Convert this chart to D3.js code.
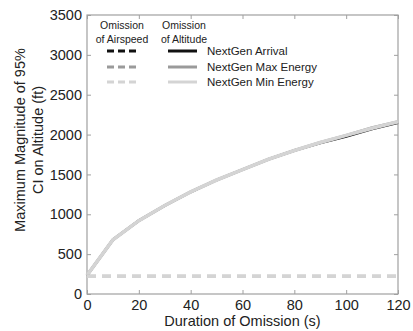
<!DOCTYPE html>
<html><head><meta charset="utf-8">
<script src="https://cdn.jsdelivr.net/npm/d3@7"></script>
<style>body{margin:0;background:#fff}svg{display:block}text{font-family:Arial,"Liberation Sans",sans-serif}</style>
</head><body><svg id="c" width="413" height="331"></svg>
<script>
const durations = [0,10,20,30,40,50,60,70,80,90,100,110,120];
const arrivalAlt = [235,680,920,1110,1280,1430,1560,1690,1800,1895,1975,2070,2150];
const maxEnergyAlt = [235,680,920,1110,1280,1430,1560,1690,1800,1900,1990,2085,2160];
const minEnergyAlt = [235,680,920,1110,1280,1430,1560,1690,1800,1900,1990,2080,2160];
const arrivalSpd = [222,222,222,222,222,222,222,222,222,222,222,222,222];
const maxEnergySpd = [222,222,222,222,222,222,222,222,222,222,222,222,222];
const minEnergySpd = [222,222,222,222,222,222,222,222,222,222,222,222,222];
const seriesNames = ["NextGen Arrival","NextGen Max Energy","NextGen Min Energy"];
const seriesColors = ["#111111","#9a9a9a","#d4d4d4"];
const xTicks = [0,20,40,60,80,100,120];
const yTicks = [0,500,1000,1500,2000,2500,3000,3500];

const svg = d3.select("#c");
const L=87,R=398,T=15,B=294;
const x = d3.scaleLinear().domain([0,120]).range([L,R]);
const y = d3.scaleLinear().domain([0,3500]).range([B,T]);
const axCol="#a0a0a0";

svg.append("rect").attr("x",L).attr("y",T).attr("width",R-L).attr("height",B-T)
  .attr("fill","none").attr("stroke",axCol).attr("stroke-width",1.2);

function styleAxis(g){g.select(".domain").remove();g.selectAll(".tick line").attr("stroke",axCol);
  g.selectAll(".tick text").attr("fill","#222").attr("font-size",14.5);}
svg.append("g").attr("transform",`translate(0,${B})`)
  .call(d3.axisBottom(x).tickValues(xTicks).tickSize(-4).tickPadding(6).tickFormat(d3.format("d"))).call(styleAxis);
svg.append("g").attr("transform",`translate(0,${T})`)
  .call(d3.axisTop(x).tickValues(xTicks).tickSize(-4).tickFormat("")).call(styleAxis);
svg.append("g").attr("transform",`translate(${L},0)`)
  .call(d3.axisLeft(y).tickValues(yTicks).tickSize(-4).tickPadding(5).tickFormat(d3.format("d"))).call(styleAxis);
svg.append("g").attr("transform",`translate(${R},0)`)
  .call(d3.axisRight(y).tickValues(yTicks).tickSize(-4).tickFormat("")).call(styleAxis);

const line = d3.line().x((d,i)=>x(durations[i])).y(d=>y(d));
const alt=[arrivalAlt,maxEnergyAlt,minEnergyAlt], spd=[arrivalSpd,maxEnergySpd,minEnergySpd];
const widths=[2.6,3,3.6];
alt.forEach((s,i)=>svg.append("path").attr("d",line(s)).attr("fill","none")
  .attr("stroke",seriesColors[i]).attr("stroke-width",widths[i]));
spd.forEach((s,i)=>svg.append("path").attr("d",line(s)).attr("fill","none")
  .attr("stroke",seriesColors[i]).attr("stroke-width",widths[i]).attr("stroke-dasharray","9,6"));

const lg=svg.append("g");
[["Omission",122,29],["of Airspeed",122,43],["Omission",184,29],["of Altitude",184,43]].forEach(t=>
  lg.append("text").attr("x",t[1]).attr("y",t[2]).attr("text-anchor","middle").attr("font-size",10.5)
   .attr("fill","#222").text(t[0]));
const ly=[51,67,82];
seriesNames.forEach((n,i)=>{
  lg.append("line").attr("x1",107).attr("x2",137).attr("y1",ly[i]).attr("y2",ly[i])
    .attr("stroke",seriesColors[i]).attr("stroke-width",3).attr("stroke-dasharray","7,4");
  lg.append("line").attr("x1",168).attr("x2",197).attr("y1",ly[i]).attr("y2",ly[i])
    .attr("stroke",seriesColors[i]).attr("stroke-width",3);
  lg.append("text").attr("x",207).attr("y",ly[i]+4).attr("font-size",11.5).attr("fill","#222").text(n);
});

svg.append("text").attr("x",(L+R)/2).attr("y",326).attr("text-anchor","middle")
  .attr("font-size",14.5).attr("fill","#222").text("Duration of Omission (s)");
const yt=svg.append("text").attr("transform","translate(0,140) rotate(-90)").attr("text-anchor","middle")
  .attr("font-size",14.5).attr("fill","#222");
yt.append("tspan").attr("x",0).attr("y",25).text("Maximum Magnitude of 95%");
yt.append("tspan").attr("x",0).attr("y",43).text("CI on Altitude (ft)");
</script></body></html>
